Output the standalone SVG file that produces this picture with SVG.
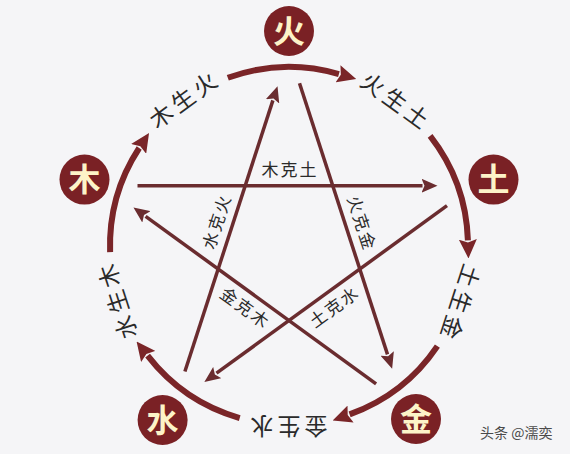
<svg xmlns="http://www.w3.org/2000/svg" width="570" height="454" viewBox="0 0 570 454">
<style>
.bg{fill:#f5f5f7}
.node circle{fill:#7a2125}
.node text{font-family:"Noto Sans CJK SC","Noto Sans",sans-serif;font-size:32px;font-weight:bold;fill:#fdf3c8;text-anchor:middle}
.arc{fill:none;stroke:#7a2528;stroke-width:6}
.kline{fill:none;stroke:#6a2c2f;stroke-width:3.5}
.lbl{font-family:"Noto Sans CJK SC","Noto Sans",sans-serif;font-size:23px;fill:#2a2a2a;text-anchor:middle;letter-spacing:4px}
.klbl{font-family:"Noto Sans CJK SC","Noto Sans",sans-serif;font-size:17px;fill:#2a2a2a;text-anchor:middle;letter-spacing:2px}
.wm{font-family:"Noto Sans CJK SC","Noto Sans",sans-serif;font-size:14px;fill:#4a4a4a}
</style>
<defs>
<marker id="arcArrow" markerUnits="userSpaceOnUse" markerWidth="19" markerHeight="18" viewBox="0 0 19 18" refX="1" refY="9" orient="auto">
<path d="M0,0 L19,9 L0,18 L3,9 Z" fill="#7a2528"/>
</marker>
<marker id="kArrow" markerUnits="userSpaceOnUse" markerWidth="16" markerHeight="14" viewBox="0 0 16 14" refX="1" refY="7" orient="auto">
<path d="M0,0 L16,7 L0,14 L3,7 Z" fill="#6a2c2f"/>
</marker>
</defs>
<rect class="bg" x="0" y="0" width="570" height="454"/>
<g id="connectors">
<g id="sheng">
<path class="arc" marker-end="url(#arcArrow)" d="M227.8,77.8 A179,179 0 0 1 338.9,74.1"/>
<path class="arc" marker-end="url(#arcArrow)" d="M430.1,135.8 A179,179 0 0 1 467.9,240.4"/>
<path class="arc" marker-end="url(#arcArrow)" d="M437.4,346.1 A179,179 0 0 1 349.6,414.4"/>
<path class="arc" marker-end="url(#arcArrow)" d="M239.7,418.1 A179,179 0 0 1 147.6,355.7"/>
<path class="arc" marker-end="url(#arcArrow)" d="M110.1,252.2 A179,179 0 0 1 139.2,148.0"/>
</g>
<g id="ke">
<path class="kline" marker-end="url(#kArrow)" d="M137.5,185.7 L422.5,185.7"/>
<path class="kline" marker-end="url(#kArrow)" d="M447.0,205.7 L216.5,373.2"/>
<path class="kline" marker-end="url(#kArrow)" d="M184.9,371.5 L272.9,100.4"/>
<path class="kline" marker-end="url(#kArrow)" d="M299.5,83.3 L387.5,354.4"/>
<path class="kline" marker-end="url(#kArrow)" d="M376.1,383.8 L145.6,216.3"/>
</g>
<g id="sheng-labels">
<text class="lbl" transform="translate(183.2,100.4) rotate(-36)" dx="2" dy="0.36em">木生火</text>
<text class="lbl" transform="translate(394.8,100.4) rotate(36)" dx="2" dy="0.36em">火生土</text>
<text class="lbl" transform="translate(460.2,301.6) rotate(108)" dx="2" dy="0.36em">土生金</text>
<text class="lbl" transform="translate(289,426) rotate(180)" dx="2" dy="0.36em">金生水</text>
<text class="lbl" transform="translate(117.8,301.6) rotate(252)" dx="2" dy="0.36em">水生木</text>
</g>
<g id="ke-labels">
<text class="klbl" transform="translate(289,170)" dx="1" dy="0.36em">木克土</text>
<text class="klbl" transform="translate(361.3,222.5) rotate(72)" dx="1" dy="0.36em">火克金</text>
<text class="klbl" transform="translate(333.7,307.5) rotate(-36)" dx="1" dy="0.36em">土克水</text>
<text class="klbl" transform="translate(244.3,307.5) rotate(36)" dx="1" dy="0.36em">金克木</text>
<text class="klbl" transform="translate(216.7,222.5) rotate(-72)" dx="1" dy="0.36em">水克火</text>
</g>
</g>
<g id="node-huo" class="node"><circle cx="289" cy="31" r="25"/><text x="289" y="31" dy="0.37em">火</text></g>
<g id="node-tu" class="node"><circle cx="493.5" cy="179.6" r="25"/><text x="493.5" y="179.6" dy="0.37em">土</text></g>
<g id="node-jin" class="node"><circle cx="416" cy="419" r="25"/><text x="416" y="419" dy="0.37em">金</text></g>
<g id="node-shui" class="node"><circle cx="162.6" cy="420" r="25"/><text x="162.6" y="420" dy="0.37em">水</text></g>
<g id="node-mu" class="node"><circle cx="84.5" cy="179.6" r="25"/><text x="84.5" y="179.6" dy="0.37em">木</text></g>
<text class="wm" x="480" y="438">头条 @濡奕</text>
</svg>
